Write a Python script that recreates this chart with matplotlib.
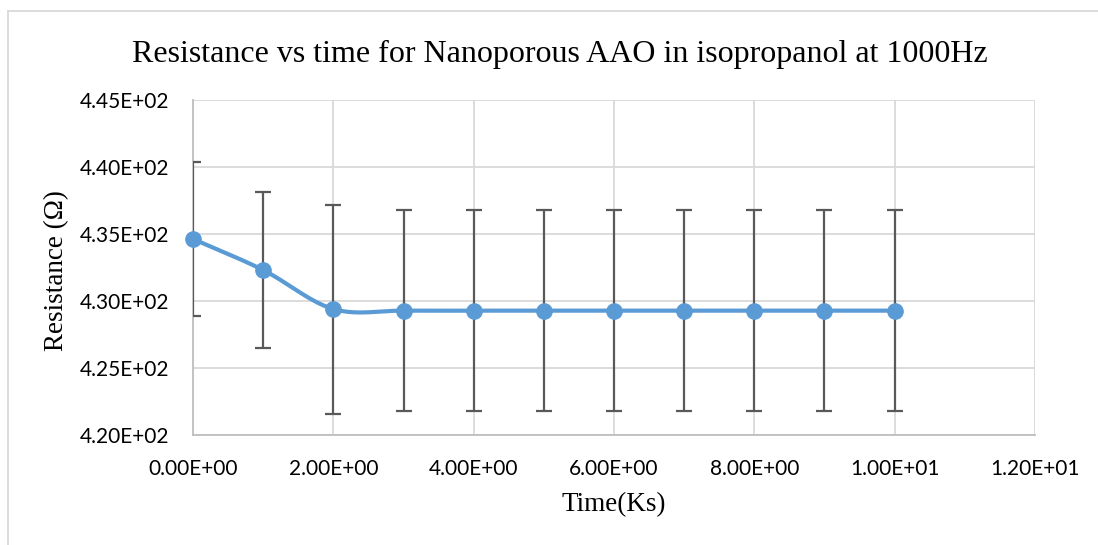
import numpy as np
import matplotlib
matplotlib.use("Agg")
import matplotlib.pyplot as plt
from matplotlib.lines import Line2D

# Measurements
time_ks = [0, 1, 2, 3, 4, 5, 6, 7, 8, 9, 10]
resistance = [434.63, 432.31, 429.4, 429.28, 429.28, 429.28, 429.28, 429.28, 429.28, 429.28, 429.28]
err = [5.75, 5.85, 7.8, 7.5, 7.5, 7.5, 7.5, 7.5, 7.5, 7.5, 7.5]

x_ticks = [0, 2, 4, 6, 8, 10, 12]
y_ticks = [420, 425, 430, 435, 440, 445]


def catmull_rom(xs, ys, n=30):
    """Smoothed curve through the points (Catmull-Rom, like a spreadsheet's smoothed line)."""
    xs = np.asarray(xs, float)
    ys = np.asarray(ys, float)
    px = np.concatenate([[2 * xs[0] - xs[1]], xs, [2 * xs[-1] - xs[-2]]])
    py = np.concatenate([[2 * ys[0] - ys[1]], ys, [2 * ys[-1] - ys[-2]]])
    out_x, out_y = [], []
    t = np.linspace(0, 1, n)
    for i in range(1, len(px) - 2):
        p0, p1, p2, p3 = [np.array([px[j], py[j]]) for j in (i - 1, i, i + 1, i + 2)]
        c1 = p1 + (p2 - p0) / 6.0
        c2 = p2 - (p3 - p1) / 6.0
        b0 = (1 - t) ** 3
        b1 = 3 * (1 - t) ** 2 * t
        b2 = 3 * (1 - t) * t ** 2
        b3 = t ** 3
        seg = np.outer(b0, p1) + np.outer(b1, c1) + np.outer(b2, c2) + np.outer(b3, p2)
        out_x.extend(seg[:, 0])
        out_y.extend(seg[:, 1])
    return np.array(out_x), np.array(out_y)


W, H = 1098, 545
fig = plt.figure(figsize=(W / 100, H / 100), dpi=100)
fig.patch.set_facecolor("white")

# chart-area frame (top and left edges fall inside the image)
fig.add_artist(Line2D([8 / W, 1.0], [1 - 11 / H, 1 - 11 / H], transform=fig.transFigure,
                      color="#d9d9d9", linewidth=1.3))
fig.add_artist(Line2D([8 / W, 8 / W], [0, 1 - 11 / H], transform=fig.transFigure,
                      color="#d9d9d9", linewidth=1.3))

ax = fig.add_axes([193 / W, 1 - 435 / H, (1035 - 193) / W, (435 - 100) / H])
ax.set_xlim(0, 12)
ax.set_ylim(420, 445)
ax.set_xticks(x_ticks)
ax.set_yticks(y_ticks)
ax.set_xticklabels([f"{v:.2E}" for v in x_ticks])
ax.set_yticklabels([f"{v / 100:.2f}E+02" for v in y_ticks])

ax.grid(True, color="#d9d9d9", linewidth=1.3)
ax.set_axisbelow(True)
for side in ("top", "right"):
    ax.spines[side].set_visible(False)
for side in ("left", "bottom"):
    ax.spines[side].set_color("#bfbfbf")
    ax.spines[side].set_linewidth(1.3)
ax.tick_params(axis="y", length=0, pad=17, labelsize=15, labelcolor="black")
ax.tick_params(axis="x", length=0, pad=17, labelsize=15, labelcolor="black")
for lab in ax.get_xticklabels() + ax.get_yticklabels():
    lab.set_fontfamily(["Lato", "DejaVu Sans"])

sx, sy = catmull_rom(time_ks, resistance)
ax.errorbar(time_ks, resistance, yerr=err, fmt="none", ecolor="#595959",
            elinewidth=1.6, capsize=6, capthick=1.6, zorder=3)
ax.plot(sx, sy, color="#5b9bd5", linewidth=3, zorder=4, solid_capstyle="round")
ax.plot(time_ks, resistance, "o", color="#5b9bd5", markersize=11, zorder=5, clip_on=False)

fig.text(614 / W, 1 - 505 / H, "Time(Ks)", ha="center", va="center",
         fontfamily="Liberation Serif", fontsize=19.5)
fig.text(57 / W, 1 - 271 / H, "Resistance (Ω)", ha="center", va="center", rotation=90,
         fontfamily="Liberation Serif", fontsize=19.5)
fig.text(560 / W, 1 - 62 / H,
         "Resistance vs time for Nanoporous AAO in isopropanol at 1000Hz",
         ha="center", va="baseline", fontfamily="Liberation Serif", fontsize=23)

fig.savefig("out.png", dpi=100)
